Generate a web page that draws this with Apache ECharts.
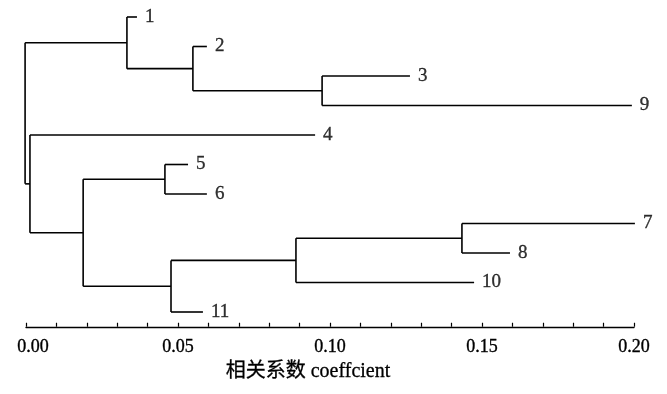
<!DOCTYPE html>
<html>
<head>
<meta charset="utf-8">
<script src="https://cdn.jsdelivr.net/npm/echarts@6/dist/echarts.min.js"></script>
<style>html,body{margin:0;padding:0;background:#fff}#c{width:667px;height:394px}</style>
</head>
<body>
<div id="c"></div>
<script>
// Leaves in display order (top to bottom) and their branch-end values
var leafNames  = ['1', '2', '3', '9', '4', '5', '6', '7', '8', '10', '11'];
var leafValues = [0.0365, 0.0595, 0.1263, 0.1993, 0.0951, 0.0533, 0.0595, 0.2003, 0.1592, 0.1474, 0.0582];
var leafParent = [1, 2, 3, 3, 4, 6, 6, 9, 9, 8, 7];
// Internal (merge) nodes: height on the axis and parent node index
var nodeValues = [-0.0003, 0.0332, 0.0549, 0.0974, 0.0013, 0.0188, 0.0457, 0.0477, 0.0888, 0.1434];
var nodeParent = [-1, 0, 1, 2, 0, 4, 5, 5, 7, 8];
// Axis ticks
var axisMin = 0, axisMax = 0.20, tickStep = 0.01, labelStep = 0.05;

// children lists
var children = nodeValues.map(function () { return []; });
leafParent.forEach(function (p, i) { children[p].push({ leaf: true, i: i }); });
nodeParent.forEach(function (p, i) { if (p >= 0) children[p].push({ leaf: false, i: i }); });

function yOf(ref) {
  if (ref.leaf) return ref.i;
  var ys = children[ref.i].map(yOf);
  return (Math.min.apply(null, ys) + Math.max.apply(null, ys)) / 2;
}
function xOf(ref) { return ref.leaf ? leafValues[ref.i] : nodeValues[ref.i]; }

var segs = [];
children.forEach(function (ch, n) {
  var nx = nodeValues[n];
  var ys = ch.map(yOf);
  segs.push({ coords: [[nx, Math.min.apply(null, ys)], [nx, Math.max.apply(null, ys)]] });
  ch.forEach(function (c) {
    var cy = yOf(c);
    segs.push({ coords: [[nx, cy], [xOf(c), cy]] });
  });
});

var leafPts = leafNames.map(function (n, i) { return { name: n, value: [leafValues[i], i] }; });

var serif = '"Liberation Serif", "Times New Roman", "Noto Sans CJK SC", serif';
var chart = echarts.init(document.getElementById('c'));
chart.setOption({
  animation: false,
  backgroundColor: '#fff',
  grid: { left: 26, right: 33, top: 2.25, bottom: 67.25 },
  xAxis: {
    type: 'value', position: 'bottom', min: axisMin, max: axisMax, interval: tickStep,
    axisLine: { show: true, onZero: false, lineStyle: { color: '#000', width: 1.4 } },
    axisTick: { show: true, inside: true, length: 4, lineStyle: { color: '#000', width: 1.2 } },
    splitLine: { show: false },
    axisLabel: {
      margin: 12, color: '#000', fontFamily: serif, fontSize: 18,
      textBorderColor: '#000', textBorderWidth: 0.35,
      rich: { z: { padding: [0, 0, 0, 14], fontFamily: serif, fontSize: 18, color: '#000',
                   textBorderColor: '#000', textBorderWidth: 0.35 } },
      formatter: function (v) {
        var k = Math.round(v / tickStep);
        if (k % Math.round(labelStep / tickStep) !== 0) return '';
        return k === 0 ? '{z|' + v.toFixed(2) + '}' : v.toFixed(2);
      }
    },
    name: '相关系数 coeffcient', nameLocation: 'middle', nameGap: 34,
    nameTextStyle: { color: '#000', fontFamily: serif, fontSize: 20, padding: [0, 44, 0, 0],
                     textBorderColor: '#000', textBorderWidth: 0.3 }
  },
  yAxis: { type: 'value', min: -0.5, max: 10.5, inverse: true, show: false },
  series: [
    {
      type: 'lines', coordinateSystem: 'cartesian2d', polyline: true, clip: false,
      lineStyle: { color: '#000', width: 1.6, opacity: 1 },
      data: segs, silent: true
    },
    {
      type: 'scatter', symbolSize: 0, clip: false,
      label: {
        show: true, position: 'right', distance: 8, color: '#000',
        fontFamily: serif, fontSize: 19, formatter: '{b}',
        textBorderColor: '#000', textBorderWidth: 0.35
      },
      data: leafPts, silent: true
    }
  ]
});
</script>
</body>
</html>
